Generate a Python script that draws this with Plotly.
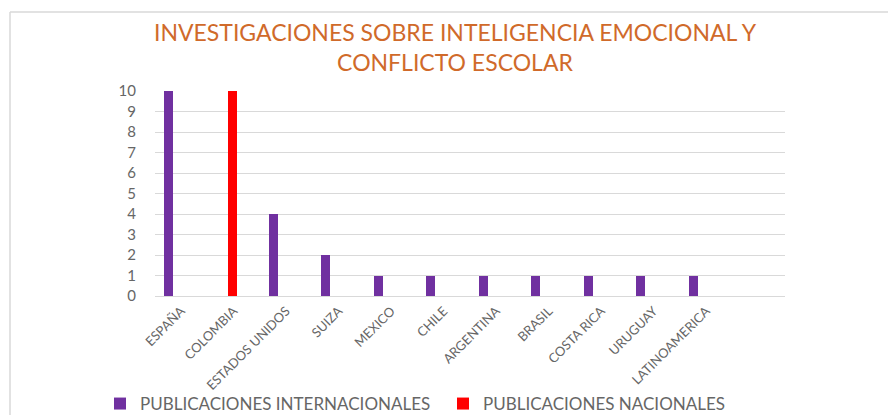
import plotly.graph_objects as go

paises = ["ESPAÑA", "COLOMBIA", "ESTADOS UNIDOS", "SUIZA", "MEXICO", "CHILE",
          "ARGENTINA", "BRASIL", "COSTA RICA", "URUGUAY", "LATINOAMERICA"]
internacionales = [10, None, 4, 2, 1, 1, 1, 1, 1, 1, 1]
nacionales = [None, 10, None, None, None, None, None, None, None, None, None]
y_ticks = list(range(0, 11))

W, H = 888, 415
L, R, T, B = 155, 785, 91, 296
grey = "#666666"
font_family = "Lato, 'Open Sans', sans-serif"

fig = go.Figure()
fig.add_trace(go.Bar(
    x=paises, y=internacionales, name="PUBLICACIONES INTERNACIONALES",
    marker=dict(color="#7030A0", line=dict(width=0)),
    width=0.17, offset=-0.335, legend="legend",
))
fig.add_trace(go.Bar(
    x=paises, y=nacionales, name="PUBLICACIONES NACIONALES",
    marker=dict(color="#FF0000", line=dict(width=0)),
    width=0.17, offset=-0.115, legend="legend2",
))

legend_common = dict(
    orientation="h", xanchor="left", xref="container",
    y=1 - 404 / H, yanchor="middle", yref="container",
    font=dict(size=17, color=grey),
    bgcolor="rgba(0,0,0,0)",
)

fig.update_layout(
    width=W, height=H,
    margin=dict(l=L, r=W - R, t=T, b=H - B, pad=0, autoexpand=False),
    paper_bgcolor="white", plot_bgcolor="white",
    font=dict(family=font_family, color=grey),
    title=dict(
        text="INVESTIGACIONES SOBRE INTELIGENCIA EMOCIONAL Y<br>CONFLICTO ESCOLAR",
        x=455 / W, xanchor="center", xref="container",
        y=1 - 41 / H, yanchor="middle", yref="container",
        font=dict(size=23, color="#D06A2A", family=font_family),
    ),
    showlegend=True,
    legend=dict(x=100 / W, **legend_common),
    legend2=dict(x=443 / W, **legend_common),
    bargap=0, barmode="overlay",
    xaxis=dict(
        type="category", range=[-0.5, 11.5],
        tickangle=-45, tickfont=dict(size=13, color=grey),
        showgrid=False, showline=False, ticks="", zeroline=False,
        ticklabelstandoff=4,
    ),
    yaxis=dict(
        range=[0, 10], tickvals=y_ticks, tickfont=dict(size=15, color=grey),
        showgrid=True, gridcolor="#D9D9D9", gridwidth=1,
        zeroline=True, zerolinecolor="#D9D9D9", zerolinewidth=1,
        ticks="", showline=False, ticklabelstandoff=18,
    ),
    shapes=[
        dict(type="line", xref="paper", yref="paper",
             x0=(10 - L) / (R - L), x1=(W + 5 - L) / (R - L),
             y0=(B - 12) / (B - T), y1=(B - 12) / (B - T),
             line=dict(color="#D9D9D9", width=1.5)),
        dict(type="line", xref="paper", yref="paper",
             x0=(10 - L) / (R - L), x1=(10 - L) / (R - L),
             y0=(B - 12) / (B - T), y1=(B - H - 5) / (B - T),
             line=dict(color="#D9D9D9", width=1.5)),
    ],
)

fig.write_html("out.html",
               config={"displayModeBar": False},
               post_script="document.body.style.margin='0';document.body.style.overflow='hidden';")
